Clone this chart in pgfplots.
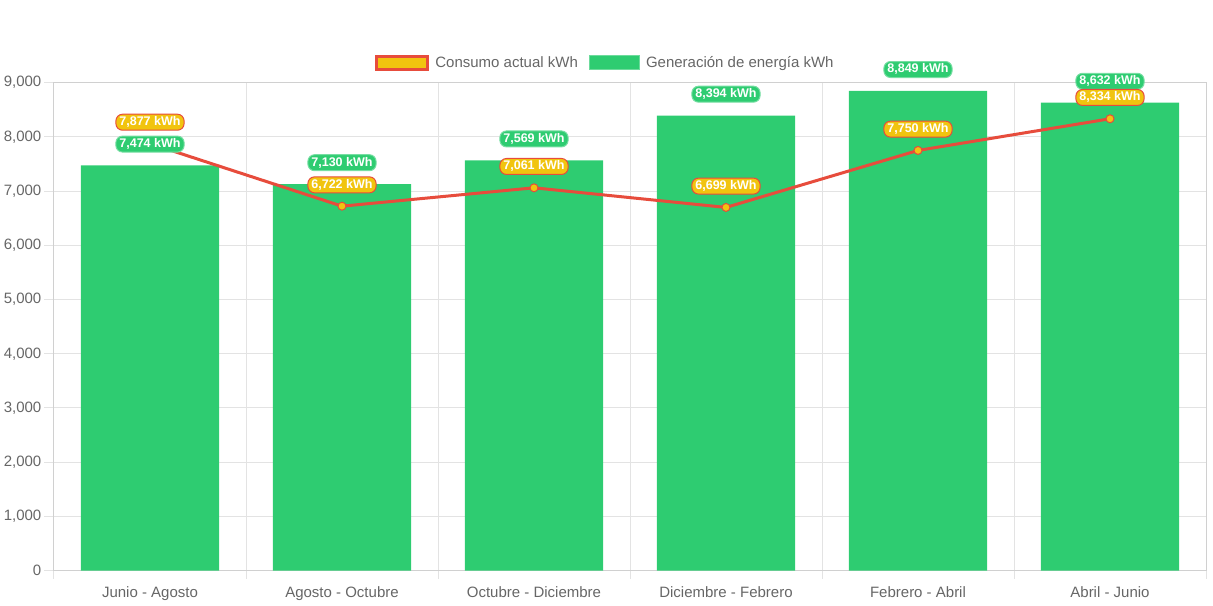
\documentclass[border=0pt]{standalone}
\usepackage{fontspec}
\setmainfont{Liberation Sans}
\usepackage{pgfplots}
\pgfplotsset{compat=1.18}
\definecolor{cgreen}{HTML}{2ECC71}
\definecolor{cyel}{HTML}{F1C40F}
\definecolor{cred}{HTML}{E74C3C}
\definecolor{ctext}{HTML}{666666}
\definecolor{cgrid}{HTML}{E3E3E3}
\definecolor{caxis}{HTML}{D0D0D0}
\pgfplotsset{
  lbl/.style={
    point meta=y,
    nodes near coords={\pgfmathprintnumber[fixed,precision=0,1000 sep={,}]{\pgfplotspointmeta}~kWh},
    every node near coord/.append style={anchor=center, yshift=16pt,
      font=\bfseries\fontsize{9.4}{11}\selectfont, text=white,
      rounded corners=5pt, inner xsep=2.6pt, inner ysep=1.5pt,
      text height=7pt, text depth=2pt, line width=0.75pt}
  }
}
\begin{document}
\begin{tikzpicture}
\path[use as bounding box] (0pt,0pt) rectangle (909.75pt,454.5pt);
\begin{axis}[
  at={(40.5pt,26.5pt)}, anchor=south west,
  scale only axis, width=864pt, height=366pt,
  clip=false,
  xmin=-0.5, xmax=5.5, ymin=0, ymax=9000,
  xtick={0,...,5},
  xticklabels={Junio - Agosto, Agosto - Octubre, Octubre - Diciembre, Diciembre - Febrero, Febrero - Abril, Abril - Junio},
  minor xtick={-0.5,0.5,...,5.5},
  ytick={0,1000,...,9000},
  xminorgrids=true, xmajorgrids=false, ymajorgrids=true,
  tick align=outside, major tick length=7.5pt, minor tick length=6pt,
  xtick pos=bottom, ytick pos=left,
  major x tick style={draw=none},
  tick style={draw=cgrid, line width=0.75pt},
  major grid style={draw=cgrid, line width=0.75pt},
  minor grid style={draw=cgrid, line width=0.75pt},
  axis line style={draw=caxis, line width=0.75pt},
  ticklabel style={font=\fontsize{11.25}{13}\selectfont, text=ctext},
  /pgf/number format/assume math mode=true,
  yticklabel style={/pgf/number format/1000 sep={,}, xshift=1.5pt},
  xticklabel style={yshift=-1pt},
  scaled y ticks=false,
  legend columns=2,
  legend style={at={(0.5,1)}, anchor=center, yshift=14.8pt, xshift=-18.4pt,
    draw=none, fill=none, font=\fontsize{11.25}{13}\selectfont, text=ctext,
    /tikz/every odd column/.append style={column sep=2.8pt},
    /tikz/every even column/.append style={column sep=6pt}},
]
\addlegendimage{legend image code/.code={\draw[fill=cyel, draw=cred, line width=2.25pt] (0pt,-5.1pt) rectangle (38.5pt,5.1pt);}}
\addlegendentry{Consumo actual kWh}
\addlegendimage{legend image code/.code={\draw[fill=cgreen, draw=cgreen!70!white, line width=0.75pt] (0pt,-5.25pt) rectangle (37.5pt,5.25pt);}}
\addlegendentry{Generación de energía kWh}

% Generación de energía (bars)
\addplot[ybar, bar width=0.72, fill=cgreen, draw=none, forget plot]
  coordinates {(0,7474) (1,7130) (2,7569) (3,8394) (4,8849) (5,8632)};
% Consumo actual (line)
\addplot[cred, line width=2.25pt, mark=*, mark size=3pt,
  mark options={fill=cyel, draw=cred, line width=0.75pt}, forget plot]
  coordinates {(0,7877) (1,6722) (2,7061) (3,6699) (4,7750) (5,8334)};
% labels
\addplot[draw=none, forget plot, lbl,
  every node near coord/.append style={fill=cgreen, draw=cgreen!65!white}]
  coordinates {(0,7474) (1,7130) (2,7569) (3,8394) (4,8849) (5,8632)};
\addplot[draw=none, forget plot, lbl,
  every node near coord/.append style={fill=cyel, draw=cred}]
  coordinates {(0,7877) (1,6722) (2,7061) (3,6699) (4,7750) (5,8334)};
\end{axis}
\end{tikzpicture}
\end{document}
